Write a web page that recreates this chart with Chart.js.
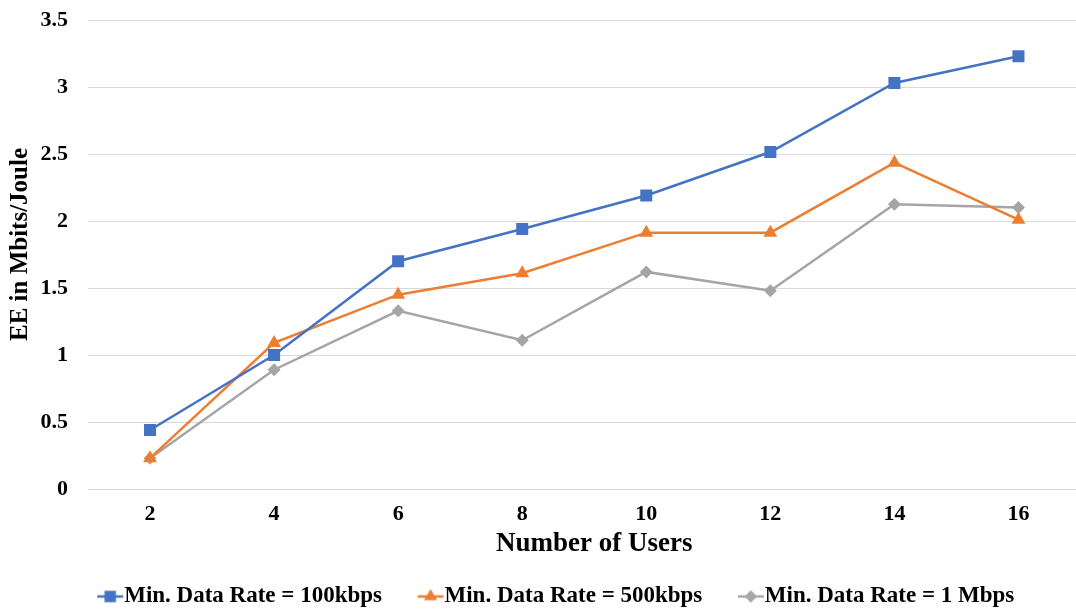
<!DOCTYPE html>
<html>
<head>
<meta charset="utf-8">
<script src="https://cdn.jsdelivr.net/npm/chart.js@4/dist/chart.umd.min.js"></script>
<style>
  html, body { margin: 0; padding: 0; background: #ffffff; overflow: hidden; }
  #wrap { width: 1076px; height: 609px; overflow: hidden; }
</style>
</head>
<body>
<div id="wrap"><canvas id="c" width="1089" height="609"></canvas></div>
<script>
// Number of users on the x axis
const users = ['2', '4', '6', '8', '10', '12', '14', '16'];

// Energy efficiency (Mbits/Joule) for each minimum data rate
const ee100kbps = [0.44, 1.00, 1.70, 1.94, 2.19, 2.515, 3.03, 3.23];
const ee500kbps = [0.23, 1.09, 1.45, 1.61, 1.913, 1.913, 2.435, 2.01];
const ee1Mbps   = [0.23, 0.89, 1.33, 1.11, 1.62, 1.48, 2.125, 2.10];

const seriesNames = [
  'Min. Data Rate = 100kbps',
  'Min. Data Rate = 500kbps',
  'Min. Data Rate = 1 Mbps'
];

const xTitle = 'Number of Users';
const yTitle = 'EE in Mbits/Joule';

const colors = ['#4472C4', '#ED7D31', '#A5A5A5'];
const styles = ['rect', 'triangle', 'rectRot'];
const radii = [8.5, 8, 6.5];

const FONT = '"Liberation Serif", "Times New Roman", serif';
const LEGEND_SIZE = 23;
const SYMBOL_W = 26;

// Legend symbols: a short line segment with the series marker in the middle.
// The canvas is wider than the symbol so the text sits right after the line.
function legendSymbol(color, style, r) {
  const half = (SYMBOL_W + LEGEND_SIZE / 2) - SYMBOL_W / 2;
  const c = document.createElement('canvas');
  c.width = Math.round(half * 2); c.height = 20;
  const g = c.getContext('2d');
  const x1 = c.width - 1, x0 = x1 - SYMBOL_W;
  g.strokeStyle = color;
  g.lineWidth = 2.5;
  g.beginPath(); g.moveTo(x0, 10); g.lineTo(x1, 10); g.stroke();
  g.fillStyle = color;
  g.beginPath();
  const cx = (x0 + x1) / 2, cy = 10;
  if (style === 'rect') {
    const s = r * Math.SQRT1_2 * 0.95;
    g.rect(cx - s, cy - s, 2 * s, 2 * s);
  } else if (style === 'triangle') {
    const rr = r * 0.95;
    g.moveTo(cx, cy - rr);
    g.lineTo(cx + rr * 0.866, cy + rr * 0.5);
    g.lineTo(cx - rr * 0.866, cy + rr * 0.5);
    g.closePath();
  } else {
    const rr = r * 0.95;
    g.moveTo(cx, cy - rr); g.lineTo(cx + rr, cy); g.lineTo(cx, cy + rr); g.lineTo(cx - rr, cy);
    g.closePath();
  }
  g.fill();
  return c;
}
const legendImgs = colors.map((col, i) => legendSymbol(col, styles[i], radii[i]));

const seriesData = [ee100kbps, ee500kbps, ee1Mbps];

// Nudge the legend row a little to the right
const legendShift = {
  id: 'legendShift',
  afterLayout(chart) {
    if (chart.legend) { chart.legend.left += 6; chart.legend.right += 6; }
  }
};

// Axis titles, placed relative to the plot area
const axisTitles = {
  id: 'axisTitles',
  afterDraw(chart) {
    const { ctx, chartArea: a } = chart;
    ctx.save();
    ctx.fillStyle = '#000000';
    ctx.textAlign = 'center';
    ctx.textBaseline = 'middle';
    ctx.font = 'bold 27px ' + FONT;
    ctx.fillText(xTitle, (a.left + a.right) / 2 + 10, a.bottom + 55);
    ctx.translate(21, (a.top + a.bottom) / 2 - 10);
    ctx.rotate(-Math.PI / 2);
    ctx.font = 'bold 25px ' + FONT;
    ctx.fillText(yTitle, 0, 0);
    ctx.restore();
  }
};

new Chart(document.getElementById('c'), {
  type: 'line',
  data: {
    labels: users,
    datasets: seriesData.map((d, i) => ({
      label: seriesNames[i],
      data: d,
      borderColor: colors[i],
      backgroundColor: colors[i],
      borderWidth: 2.5,
      pointStyle: styles[i],
      pointRadius: radii[i],
      pointHoverRadius: radii[i],
      pointBorderWidth: 0,
      tension: 0
    }))
  },
  plugins: [legendShift, axisTitles],
  options: {
    responsive: false,
    animation: false,
    devicePixelRatio: 1,
    layout: { padding: { left: 0, right: 0, top: 20, bottom: -9 } },
    plugins: {
      tooltip: { enabled: false },
      legend: {
        position: 'bottom',
        labels: {
          usePointStyle: true,
          pointStyleWidth: SYMBOL_W,
          padding: 25,
          color: '#000000',
          font: { family: FONT, size: LEGEND_SIZE, weight: 'bold' },
          generateLabels(chart) {
            const items = Chart.defaults.plugins.legend.labels.generateLabels(chart);
            items.forEach((it, i) => { it.pointStyle = legendImgs[i]; });
            return items;
          }
        }
      }
    },
    scales: {
      x: {
        offset: true,
        grid: { display: false, drawTicks: false },
        border: { display: false },
        ticks: {
          color: '#000000',
          padding: 12,
          font: { family: FONT, size: 22, weight: 'bold' }
        },
        afterFit(scale) {
          scale.height = 71;
          scale.paddingLeft = 0;
          scale.paddingRight = 0;
        }
      },
      y: {
        min: 0,
        max: 3.5,
        ticks: {
          stepSize: 0.5,
          color: '#000000',
          padding: 20,
          font: { family: FONT, size: 22, weight: 'bold' },
          callback: (v) => String(Number(v.toFixed(2)))
        },
        grid: { color: '#d9d9d9', lineWidth: 1, drawTicks: false },
        border: { display: false },
        afterFit(scale) {
          scale.width = 88;
          scale.paddingTop = 0;
          scale.paddingBottom = 0;
        }
      }
    }
  }
});
</script>
</body>
</html>
